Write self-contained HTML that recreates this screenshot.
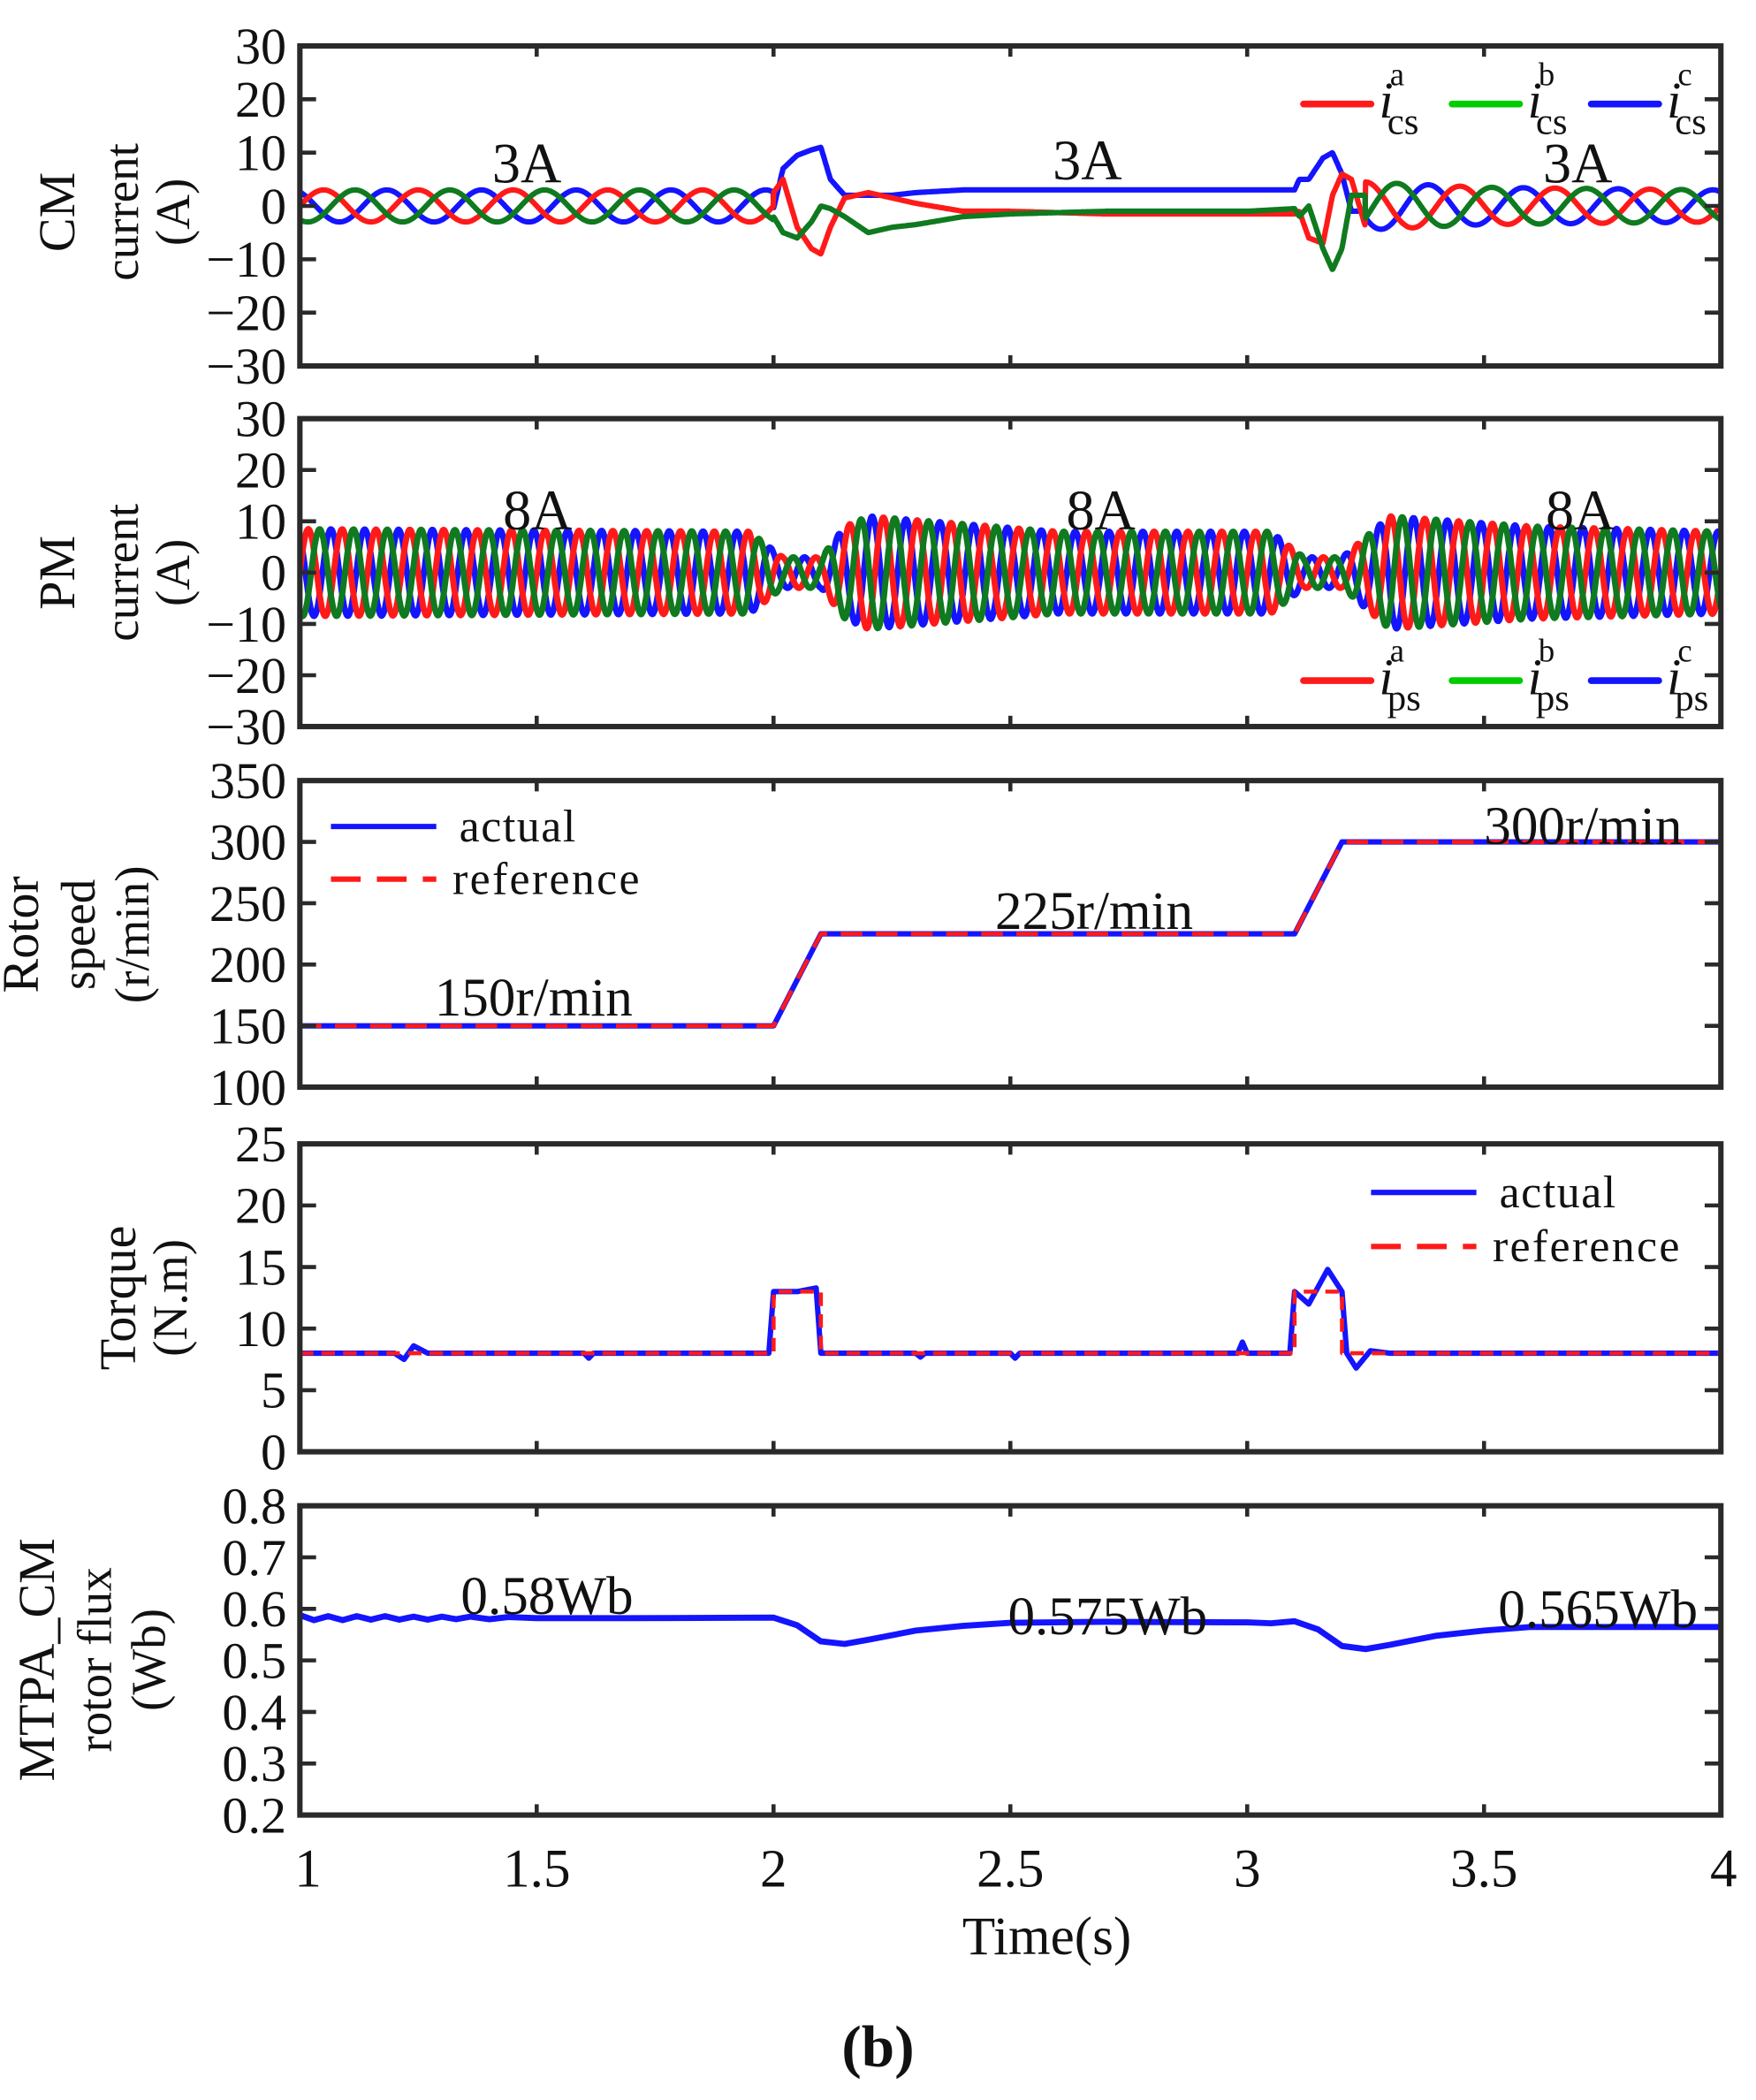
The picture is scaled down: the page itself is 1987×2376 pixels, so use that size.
<!DOCTYPE html>
<html><head><meta charset="utf-8"><style>
html,body{margin:0;padding:0;background:#fff}
svg{display:block}
text{font-family:"Liberation Serif",serif;fill:#111}
</style></head><body>
<svg id="fig" width="1987" height="2376" viewBox="0 0 1300 1555" preserveAspectRatio="none" xmlns="http://www.w3.org/2000/svg"></svg>
<script>
// ---- data ----
const xTicks=[1,1.5,2,2.5,3,3.5,4];
const cmTicks=[30,20,10,0,-10,-20,-30];
const pmTicks=[30,20,10,0,-10,-20,-30];
const speedTicks=[350,300,250,200,150,100];
const torqueTicks=[25,20,15,10,5,0];
const fluxTicks=[0.8,0.7,0.6,0.5,0.4,0.3,0.2];
const speedT=[1,2,2.1,3.1,3.2,4];
const speedActual=[150,150,225,225,300,300];
const speedRef=[150,150,225,225,300,300];
const torqueT=[1,1.2,1.22,1.24,1.27,1.6,1.61,1.62,1.99,2.0,2.05,2.09,2.1,2.3,2.31,2.32,2.5,2.51,2.52,2.98,2.99,3.0,3.09,3.1,3.13,3.17,3.2,3.21,3.23,3.26,3.3,4];
const torqueActual=[8,8,7.5,8.6,8,8,7.6,8,8,13,13,13.3,8,8,7.7,8,8,7.6,8,8,8.9,8,8,13,12,14.8,13,8,6.8,8.2,8,8];
const torqueRefT=[1,2,2,2.1,2.1,3.1,3.1,3.2,3.2,4];
const torqueRef=[8,8,13,13,8,8,13,13,8,8];
const fluxT=[1,1.03,1.06,1.09,1.12,1.15,1.18,1.21,1.24,1.27,1.3,1.33,1.36,1.4,1.44,1.5,1.6,1.7,2.0,2.05,2.1,2.15,2.2,2.3,2.4,2.5,2.7,3.0,3.05,3.1,3.15,3.2,3.25,3.3,3.4,3.5,3.6,4];
const fluxV=[0.588,0.578,0.586,0.578,0.586,0.579,0.586,0.579,0.585,0.579,0.585,0.58,0.585,0.58,0.584,0.582,0.582,0.582,0.583,0.568,0.537,0.532,0.54,0.558,0.567,0.573,0.575,0.574,0.572,0.576,0.56,0.528,0.522,0.53,0.548,0.558,0.565,0.565];
const cmT=[2.0,2.02,2.05,2.08,2.1,2.12,2.15,2.2,2.25,2.3,2.4,2.5,2.7,3.0,3.1,3.11,3.13,3.16,3.18,3.2,3.22,3.25];
const cmA=[2.5,5,-4,-8,-9,-4,1.5,2.5,1.5,0.5,-1,-1,-1.5,-1.5,-1.5,-1,-6,-7,2,6,5,-4];
const cmB=[-2,-5,-6,-3,0,-0.5,-2,-5,-4,-3.5,-2,-1.5,-1,-1,-0.5,-2,0,-8,-12,-8,2,2];
const cmC=[-0.5,7,9.5,10.5,11,5,2,2,2,2.5,3,3,3,3,3,5,5,9,10,6,-1,-1];
const cmEnvT=[1,2,3.25,3.5,4];
const cmEnvA=[3,3,4.5,3.5,3];
const pmEnvT=[1,1.95,2.02,2.1,2.15,2.2,2.6,3.05,3.12,3.2,3.3,3.6,4];
const pmEnvA=[8.5,8,3,3,9,11,8,8,3,3,11,9,8];
// ---- layout ----
const svg=document.getElementById('fig');
const NS='http://www.w3.org/2000/svg';
const L=222,R=1274;
function el(tag,attrs,parent){const e=document.createElementNS(NS,tag);for(const k in attrs)e.setAttribute(k,attrs[k]);(parent||svg).appendChild(e);return e;}
function xs(t){return L+(t-1)/3*(R-L);}
function interp(T,V,t){if(t<=T[0])return V[0];for(let i=1;i<T.length;i++){if(t<=T[i]){const f=(t-T[i-1])/(T[i]-T[i-1]);return V[i-1]+f*(V[i]-V[i-1]);}}return V[V.length-1];}
function panel(name,top,bot,ticks,ymin,ymax,tickFmt){
  const g=el('g',{});
  
  
  const ys=v=>bot-(v-ymin)/(ymax-ymin)*(bot-top);
  const clipId=name+'-clip';
  const cp=el('clipPath',{id:clipId},g);el('rect',{x:L,y:top,width:R-L,height:bot-top},cp);
  const plot=el('g',{'clip-path':'url(#'+clipId+')'},g);
  return {g,ys,plot,finish(){
    const fr=el('rect',{x:L,y:top,width:R-L,height:bot-top,fill:'none',stroke:'#2a2a2a','stroke-width':4},g);
    
    xTicks.forEach(t=>{const x=xs(t);if(t>1&&t<4){el('line',{x1:x,y1:top,x2:x,y2:top+8,stroke:'#2a2a2a','stroke-width':3},g);el('line',{x1:x,y1:bot,x2:x,y2:bot-8,stroke:'#2a2a2a','stroke-width':3},g);}});
    ticks.forEach(v=>{const y=ys(v);el('line',{x1:L,y1:y,x2:L+12,y2:y,stroke:'#2a2a2a','stroke-width':3},g);el('line',{x1:R,y1:y,x2:R-12,y2:y,stroke:'#2a2a2a','stroke-width':3},g);
      const tx=el('text',{x:212,y:y+13,'text-anchor':'end','font-size':38},g);tx.textContent=tickFmt(v);
      });
  }};
}
function path(p,T,V,ys,color,w,dash,name){let d='';for(let i=0;i<T.length;i++)d+=(i?'L':'M')+xs(T[i]).toFixed(1)+','+ys(V[i]).toFixed(1);
  const e=el('path',{d,fill:'none',stroke:color,'stroke-width':w,'stroke-linejoin':'round'},p);if(dash)e.setAttribute('stroke-dasharray',dash);
  return e;}
function txt(x,y,s,size,name,anchor,extra){const t=el('text',Object.assign({x,y,'font-size':size,'text-anchor':anchor||'middle'},extra||{}));t.textContent=s;return t;}
function vtitle(lines,cy){lines.forEach(([x,s,sz])=>{txt(x,cy,s,sz,'y-axis-title','middle',{transform:'rotate(-90 '+x+' '+cy+')'});});}
const minus=v=>(v<0?'\u2212'+(-v):''+v);
const green='#0f7a1f',lgreen='#00cc00',red='#ff1a1a',blue='#1414ff';
function phases(envT,envA,f,tSkip0,tSkip1,trT,tr){
  const out=[[],[],[]],T=[];
  for(let t=1;t<=4.0001;t+=0.0015){
    T.push(t);
    for(let k=0;k<3;k++){
      let v;
      if(trT&&t>=tSkip0&&t<=tSkip1)v=interp(trT,tr[k],t);
      else v=interp(envT,envA,t)*Math.sin(2*Math.PI*f*t-k*2*Math.PI/3);
      out[k].push(v);
    }
  }
  return {T,out};
}
function legendI(y,sub){[[965,red,'a'],[1075,lgreen,'b'],[1178,blue,'c']].forEach(([x,c,s])=>{
  const l=el('line',{x1:x,y1:y,x2:x+50,y2:y,stroke:c,'stroke-width':5,'stroke-linecap':'round'});
  txt(x+56,y+10,'i',38,'legend-entry','start',{'font-style':'italic'});
  txt(x+64,y-14,s,24,'legend-sup','start');txt(x+62,y+22,sub,28,'legend-sub','start');});}
function legendAR(x,y1,y2){const a=el('line',{x1:x,y1:y1,x2:x+78,y2:y1,stroke:blue,'stroke-width':4});
  const b=el('line',{x1:x,y1:y2,x2:x+78,y2:y2,stroke:red,'stroke-width':4,'stroke-dasharray':'22,12'});
  txt(x+95,y1+11,'actual',34,'legend-actual','start',{'letter-spacing':'1'});txt(x+90,y2+11,'reference',34,'legend-reference','start',{'letter-spacing':'1.5'});}
// ---- panel 1 CM current ----
let P=panel('cm-current-chart',34,271,cmTicks,-30,30,minus);
let ph=phases(cmEnvT,cmEnvA,5,2.0,3.25,cmT,[cmA,cmB,cmC]);
path(P.plot,ph.T,ph.out[2],P.ys,blue,4,null,'cm-ic-line');
path(P.plot,ph.T,ph.out[0],P.ys,red,4,null,'cm-ia-line');
path(P.plot,ph.T,ph.out[1],P.ys,green,4,null,'cm-ib-line');
P.finish();
vtitle([[55,'CM',38],[102,'current',36],[140,'(A)',36]],157);
txt(390,135,'3A',42,'annotation-3a');txt(805,133,'3A',42,'annotation-3a');txt(1168,135,'3A',42,'annotation-3a');
legendI(77,'cs');
// ---- panel 2 PM current ----
P=panel('pm-current-chart',310,538,pmTicks,-30,30,minus);
ph=phases(pmEnvT,pmEnvA,14,9,9,null,null);
path(P.plot,ph.T,ph.out[2],P.ys,blue,4.5,null,'pm-ic-line');
path(P.plot,ph.T,ph.out[0],P.ys,red,4.5,null,'pm-ia-line');
path(P.plot,ph.T,ph.out[1],P.ys,green,4.5,null,'pm-ib-line');
P.finish();
vtitle([[55,'PM',38],[102,'current',36],[140,'(A)',36]],424);
txt(398,392,'8A',42,'annotation-8a');txt(815,392,'8A',42,'annotation-8a');txt(1170,392,'8A',42,'annotation-8a');
legendI(504,'ps');
// ---- panel 3 speed ----
P=panel('rotor-speed-chart',578,805,speedTicks,100,350,v=>''+v);
path(P.plot,speedT,speedActual,P.ys,blue,4,null,'speed-actual-line');
path(P.plot,speedT,speedRef,P.ys,red,3,'16,10','speed-reference-line');
P.finish();
vtitle([[28,'Rotor',38],[70,'speed',36],[110,'(r/min)',36]],692);
txt(395,752,'150r/min',40,'annotation-150');txt(810,688,'225r/min',40,'annotation-225');txt(1172,625,'300r/min',40,'annotation-300');
legendAR(245,612,651);
// ---- panel 4 torque ----
P=panel('torque-chart',847,1075,torqueTicks,0,25,v=>''+v);
path(P.plot,torqueT,torqueActual,P.ys,blue,4,null,'torque-actual-line');
path(P.plot,torqueRefT,torqueRef,P.ys,red,3,'10,6','torque-reference-line');
P.finish();
vtitle([[100,'Torque',38],[138,'(N.m)',36]],961);
legendAR(1015,883,923);
// ---- panel 5 flux ----
P=panel('rotor-flux-chart',1115,1344,fluxTicks,0.2,0.8,v=>v.toFixed(1));
path(P.plot,fluxT,fluxV,P.ys,blue,4.5,null,'flux-line');
P.finish();
vtitle([[40,'MTPA_CM',38],[82,'rotor flux',36],[122,'(Wb)',36]],1229);
txt(405,1195,'0.58Wb',40,'annotation-058');txt(820,1210,'0.575Wb',40,'annotation-0575');txt(1183,1205,'0.565Wb',40,'annotation-0565');
xTicks.forEach(t=>{txt(xs(t)+(t===1?6:t===4?2:0),1397,''+t,40,'x-tick-label');});
txt(775,1447,'Time(s)',40,'x-axis-title');
txt(650,1530,'(b)',44,'panel-label','middle',{'font-weight':'bold'});
</script>
</body></html>
